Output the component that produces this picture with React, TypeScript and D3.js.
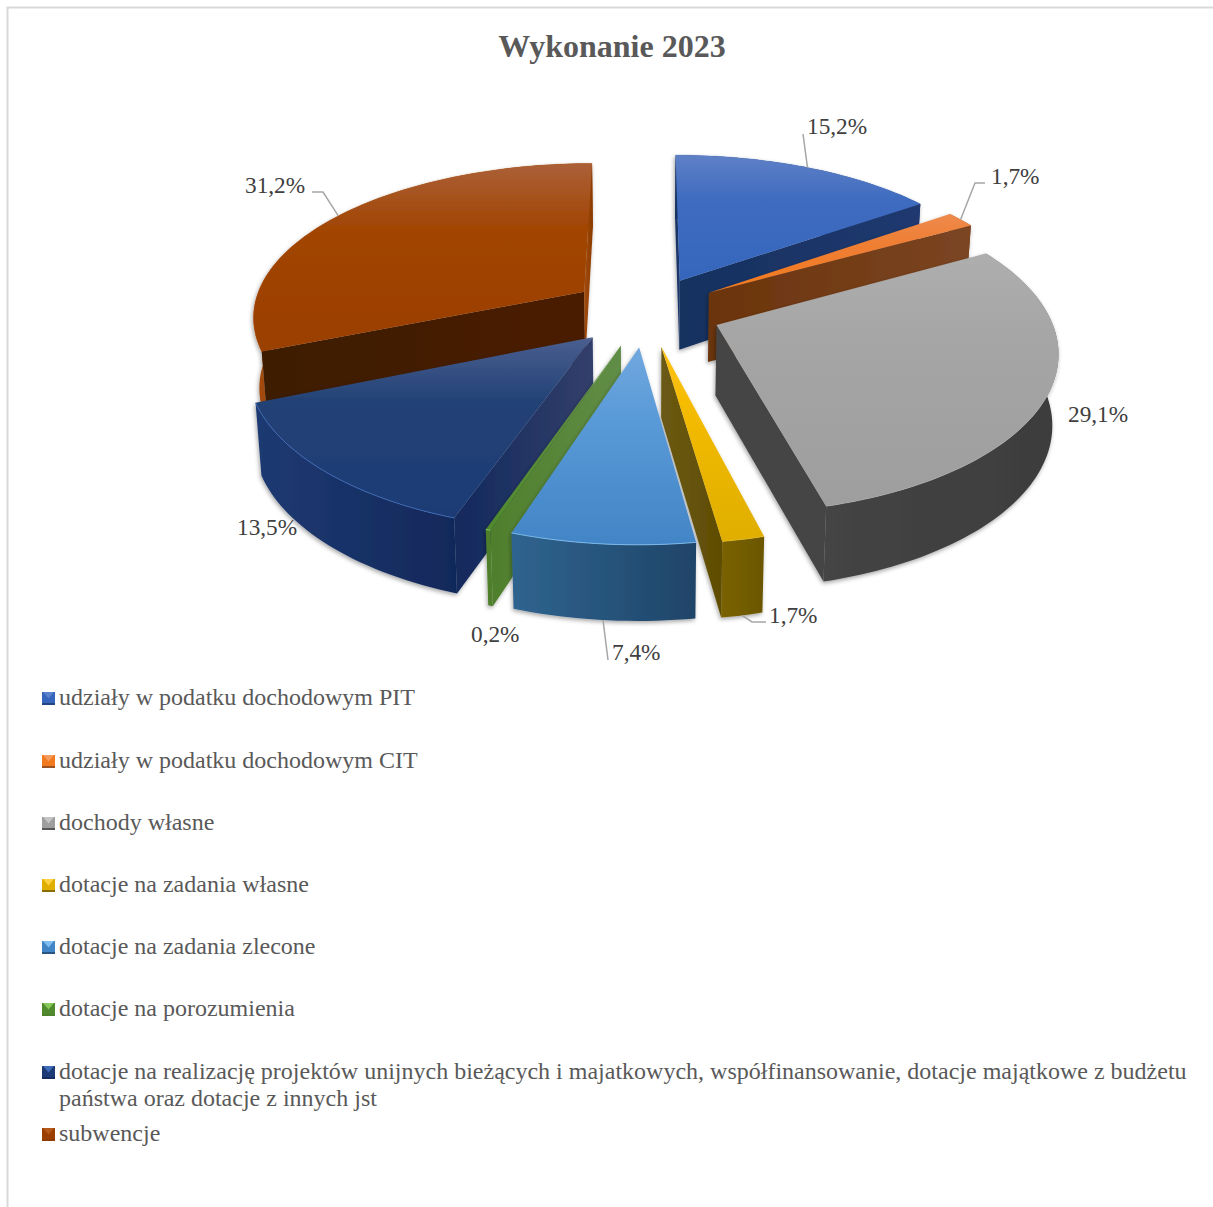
import React from "react";
import * as d3 from "d3";

const title = "Wykonanie 2023";
const categories = ["PIT", "CIT", "własne", "zadania własne", "zlecone", "porozumienia", "unijne", "subwencje"];
const values = [15.2, 1.7, 29.1, 1.7, 7.4, 0.2, 13.5, 31.2];
const valueLabels = ["15,2%", "1,7%", "29,1%", "1,7%", "7,4%", "0,2%", "13,5%", "31,2%"];
const labelX = [807, 991, 1068, 769, 612, 471, 237, 245];
const labelY = [134, 184, 422, 623, 660, 642, 535, 193];
const leaderMid: (number[][] | null)[] = [
  [[803, 134]],
  [[975, 183], [985, 183]],
  null,
  [[752, 622], [766, 622]],
  [[608, 660]],
  null,
  null,
  [[323, 192], [312, 192]],
];
const legendLines = [
  ["udziały w podatku dochodowym PIT"],
  ["udziały w podatku dochodowym CIT"],
  ["dochody własne"],
  ["dotacje na zadania własne"],
  ["dotacje na zadania zlecone"],
  ["dotacje na porozumienia"],
  ["dotacje na realizację projektów unijnych bieżących i majatkowych, współfinansowanie, dotacje majątkowe z budżetu", "państwa oraz dotacje z innych jst"],
  ["subwencje"],
];
const legendBaselines = [705, 768, 830, 892, 954, 1016, 1079, 1141];

const topColors = [
  ["#5f80c6", "#3f6cc0", "#3566bc"],
  ["#ee8a4c", "#ef7f35", "#f27a1e"],
  ["#aeaeae", "#a5a5a5", "#9e9e9e"],
  ["#ffc20a", "#f3bb05", "#dfae00"],
  ["#72a8df", "#5a9ad8", "#4285c6"],
  ["#6a9a4c", "#5e8f3e", "#4f8a2c"],
  ["#4a5f90", "#234276", "#1c3b74"],
  ["#ab6038", "#a14503", "#9a3f00"],
];
const rimColors = [
  ["#1f3a70", "#1f3a70"],
  ["#7b4522", "#7b4522"],
  ["#444444", "#3d3d3d"],
  ["#7a6203", "#6b5606"],
  ["#2f648f", "#1f4468"],
  ["#4f7f2c", "#4f7f2c"],
  ["#1e3a72", "#11285a"],
  ["#a34a08", "#8a3c05"],
];
const wallColors = [
  ["#16315f", "#20396f"],
  ["#6b340c", "#7b4522"],
  ["#444444", "#444444"],
  ["#6b5a14", "#5f4c02"],
  ["#1f4468", "#2f648f"],
  ["#4f7f2c", "#618d47"],
  ["#12295c", "#333f6b"],
  ["#3d1a00", "#4a1c00"],
];
const edgeColors = ["#5a82cc", "#f49a5c", "#c4c4c4", "#ffd040", "#7fbcf0", "#86c95a", "#3f6cb8", "#b45a1a"];
const edgeOpacity = [0.3, 0.3, 0.3, 0.3, 0.9, 0.9, 0.9, 0.3];

const cx = 646, cy = 311, Rx = 332, Ry = 154, Dx = 6.8, Dy = 6.4, explode = 0.228;
const thickAt = (Y: number) => 70 - 5 * Y;

function project(X: number, Y: number, Z: number): [number, number] {
  return [cx + Rx * X * (Dx / (Dx + Y)) * (1 - 0.015 * Z), cy - Ry * Y * (Dy / (Dy + Y)) + Z * thickAt(Y)];
}

const pieLayout = d3.pie<number>().sort(null).startAngle(0).endAngle(2 * Math.PI);
const arcs = pieLayout(values);

type Solid = {
  i: number; ox: number; oy: number; a0: number; a1: number;
};
const solids: Solid[] = arcs.map((a, i) => {
  const mid = (a.startAngle + a.endAngle) / 2;
  return { i, ox: explode * Math.sin(mid), oy: explode * Math.cos(mid), a0: a.startAngle, a1: a.endAngle };
});
const order = [...solids].sort((p, q) => q.oy - p.oy);

const lineGen = d3.line<[number, number]>().x(d => d[0]).y(d => d[1]);
const closed = (pts: [number, number][]) => (lineGen(pts) || "") + "Z";

function rimPoints(s: Solid, Z: number): [number, number][] {
  const n = Math.max(2, Math.ceil((s.a1 - s.a0) / 0.025));
  const angle = d3.scaleLinear().domain([0, n]).range([s.a0, s.a1]);
  return d3.range(n + 1).map(k => {
    const t = angle(k);
    return project(s.ox + Math.sin(t), s.oy + Math.cos(t), Z);
  });
}

function wall(s: Solid, t: number): [number, number][] {
  const X = s.ox + Math.sin(t), Y = s.oy + Math.cos(t);
  return [project(s.ox, s.oy, 0), project(X, Y, 0), project(X, Y, 1), project(s.ox, s.oy, 1)];
}
function wallCross(q: [number, number][]) {
  const dx = q[1][0] - q[0][0], dy = q[1][1] - q[0][1];
  const vx = q[3][0] - q[0][0], vy = q[3][1] - q[0][1];
  return dx * vy - dy * vx;
}

const serif = "'Liberation Serif', 'Times New Roman', serif";

export default function App() {
  return (
    <svg width={1213} height={1207} viewBox="0 0 1213 1207" style={{ position: "absolute", left: 0, top: 0, display: "block", background: "#fff" }}>
      <defs>
        <filter id="shadow" x="-15%" y="-15%" width="130%" height="130%">
          <feDropShadow dx={-1} dy={2} stdDeviation={2} floodColor="#000" floodOpacity={0.35} />
        </filter>
        {categories.map((_, i) => (
          <React.Fragment key={i}>
            <linearGradient id={`top${i}`} x1="0" y1="0" x2="0" y2="1">
              <stop offset="0" stopColor={topColors[i][0]} />
              <stop offset="0.35" stopColor={topColors[i][1]} />
              <stop offset="1" stopColor={topColors[i][2]} />
            </linearGradient>
            <linearGradient id={`rim${i}`} x1="0" y1="0" x2="1" y2="0">
              <stop offset="0" stopColor={rimColors[i][0]} />
              <stop offset="1" stopColor={rimColors[i][1]} />
            </linearGradient>
            <linearGradient id={`wall${i}`} x1="0" y1="0" x2="1" y2="0">
              <stop offset="0" stopColor={wallColors[i][0]} />
              <stop offset="1" stopColor={wallColors[i][1]} />
            </linearGradient>
          </React.Fragment>
        ))}
      </defs>

      <path d="M1213 7.5H7.5V1207" fill="none" stroke="#d9d9d9" strokeWidth={2} />

      <text x={612} y={57} textAnchor="middle" fontFamily={serif} fontWeight="bold" fontSize={32} fill="#595959">{title}</text>

      {order.map(s => {
        const apex = project(s.ox, s.oy, 0);
        const top = rimPoints(s, 0);
        const bottom = rimPoints(s, 1);
        const startW = wall(s, s.a0);
        const endW = wall(s, s.a1);
        const last = s.i === values.length - 1;
        return (
          <g key={s.i} filter="url(#shadow)">
            <path d={closed([...top, ...[...bottom].reverse()])} fill={`url(#rim${s.i})`} />
            {wallCross(startW) < 0 && <path d={closed(startW)} fill={`url(#wall${s.i})`} />}
            {wallCross(endW) > 0 && <path d={closed(endW)} fill={last ? `url(#rim${s.i})` : `url(#wall${s.i})`} />}
            <path d={closed([apex, ...top])} fill={`url(#top${s.i})`} />
            <path d={lineGen(top) || ""} fill="none" stroke={edgeColors[s.i]} strokeWidth={1} strokeOpacity={edgeOpacity[s.i]} />
          </g>
        );
      })}

      {solids.map(s => {
        const mid = (s.a0 + s.a1) / 2;
        const start = project(s.ox + Math.sin(mid), s.oy + Math.cos(mid), s.i >= 3 && s.i <= 5 ? 1 : 0);
        const mids = leaderMid[s.i];
        if (!mids) return null;
        return <path key={s.i} d={lineGen([start, ...mids] as [number, number][]) || ""} fill="none" stroke="#a6a6a6" strokeWidth={1.5} />;
      })}

      {valueLabels.map((t, i) => (
        <text key={i} x={labelX[i]} y={labelY[i]} fontFamily={serif} fontSize={23.3} fill="#404040">{t}</text>
      ))}

      {legendLines.map((lines, i) => {
        const y = legendBaselines[i];
        const k = y - 13;
        return (
          <g key={i}>
            <rect x={42} y={k} width={13} height={13} fill={topColors[i][2]} />
            <path d={`M43 ${k}H54L48.5 ${k + 6.5}Z`} fill={edgeColors[i]} />
            <path d={`M42 ${k + 13}H55V${k + 11}H42Z`} fill={rimColors[i][1]} fillOpacity={0.75} />
            {lines.map((l, j) => (
              <text key={j} x={59} y={y + j * 27} fontFamily={serif} fontSize={24} fill="#595959">{l}</text>
            ))}
          </g>
        );
      })}
    </svg>
  );
}
